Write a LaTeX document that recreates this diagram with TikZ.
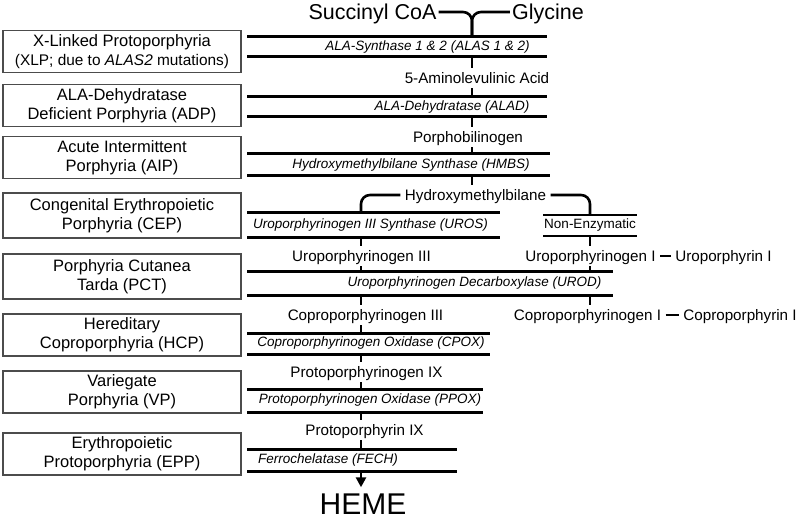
\documentclass[tikz,border=0pt]{standalone}
\usepackage{fontspec}
\setmainfont{Liberation Sans}
\usetikzlibrary{arrows.meta,calc}

\begin{document}
\begin{tikzpicture}[x=1pt,y=-1pt,
    bar/.style={line width=3pt},
    link/.style={line width=2.6pt},
    box/.style={draw=black!70,line width=1.3pt,minimum width=238pt,minimum height=42pt,
      align=center,inner sep=2pt,font=\fontsize{16.5}{19}\selectfont},
    met/.style={inner sep=4.5pt,text height=11pt,text depth=0pt,font=\fontsize{15.2}{17}\selectfont},
    enz/.style={inner sep=1pt,font=\fontsize{13.5}{15}\selectfont\itshape},
    source/.style={inner sep=2pt,text height=15.5pt,text depth=0pt,font=\fontsize{21.5}{24}\selectfont}]
    \useasboundingbox (0,0) rectangle (800,521); %固定画布大小
    %三条竖线所在的位置
    \coordinate (sU) at (472,0);
    \coordinate (sL) at (361,0);
    \coordinate (sR) at (590,0);

    %左边的疾病方框
    \node[box] (xlp) at (122,51.5) {X-Linked Protoporphyria\\{\fontsize{15.4}{19}\selectfont(XLP; due to \textit{ALAS2} mutations)}};
    \node[box] (adp) at (122,105.5) {ALA-Dehydratase\\Deficient Porphyria (ADP)};
    \node[box] (aip) at (122,157.5) {Acute Intermittent\\Porphyria (AIP)};
    \node[box,minimum height=45pt] (cep) at (122,215.5) {Congenital Erythropoietic\\Porphyria (CEP)};
    \node[box,minimum height=45pt] (pct) at (122,276.5) {Porphyria Cutanea\\Tarda (PCT)};
    \node[box] (hcp) at (122,335) {Hereditary\\Coproporphyria (HCP)};
    \node[box] (vp) at (122,392) {Variegate\\Porphyria (VP)};
    \node[box] (epp) at (122,454) {Erythropoietic\\Protoporphyria (EPP)};

    %每个酶上下两条粗线
    \draw[bar] (247,37) coordinate (alas-t) -- (547,37);
    \draw[bar] (247,57) coordinate (alas-b) -- (547,57);
    \draw[bar] (247,97) coordinate (alad-t) -- (547,97);
    \draw[bar] (247,117) coordinate (alad-b) -- (547,117);
    \draw[bar] (247,154) coordinate (hmbs-t) -- (550,154);
    \draw[bar] (247,176) coordinate (hmbs-b) -- (550,176);
    \draw[bar] (247,213) coordinate (uros-t) -- (500,213);
    \draw[bar] (247,238) coordinate (uros-b) -- (500,238);
    \draw[bar,line width=2pt] (543,215) coordinate (nonenz-t) -- (637,215);
    \draw[bar,line width=2pt] (543,236) coordinate (nonenz-b) -- (637,236);
    \draw[bar] (247,272) coordinate (urod-t) -- (613,272);
    \draw[bar] (247,295) coordinate (urod-b) -- (613,295);
    \draw[bar] (247,333) coordinate (cpox-t) -- (490,333);
    \draw[bar] (247,354) coordinate (cpox-b) -- (490,354);
    \draw[bar] (247,389) coordinate (ppox-t) -- (483,389);
    \draw[bar] (247,412) coordinate (ppox-b) -- (483,412);
    \draw[bar] (247,449) coordinate (fech-t) -- (457,449);
    \draw[bar] (247,471) coordinate (fech-b) -- (457,471);

    %酶的名字(斜体)
    \node[enz] (alas) at (427.5,47) {ALA-Synthase 1 \& 2 (ALAS 1 \& 2)};
    \node[enz] (alad) at (452,107) {ALA-Dehydratase (ALAD)};
    \node[enz] (hmbs) at (411,165) {Hydroxymethylbilane Synthase (HMBS)};
    \node[enz] (uros) at (370.5,225.5) {Uroporphyrinogen III Synthase (UROS)};
    \node[enz,font=\fontsize{13.5}{15}\selectfont] (nonenz) at (590,225.5) {Non-Enzymatic};
    \node[enz] (urod) at (474.5,283.5) {Uroporphyrinogen Decarboxylase (UROD)};
    \node[enz] (cpox) at (371,343.5) {Coproporphyrinogen Oxidase (CPOX)};
    \node[enz] (ppox) at (370,400.5) {Protoporphyrinogen Oxidase (PPOX)};
    \node[enz] (fech) at (328,460) {Ferrochelatase (FECH)};

    %中间产物
    \node[source] (succ) at (372.5,12) {Succinyl CoA};
    \node[source] (gly) at (548,12) {Glycine};
    \node[met] (ala) at (477,78) {5-Aminolevulinic Acid};
    \node[met] (pbg) at (468,137) {Porphobilinogen};
    \node[met] (hmb) at (475.5,195) {Hydroxymethylbilane};
    \node[met] (uro3) at (361.5,256) {Uroporphyrinogen III};
    \node[met] (uro1) at (590.5,256) {Uroporphyrinogen I};
    \node[met] (urop1) at (723.5,256) {Uroporphyrin I};
    \node[met] (copro3) at (365.5,315) {Coproporphyrinogen III};
    \node[met] (copro1) at (587.5,315) {Coproporphyrinogen I};
    \node[met] (coprop1) at (740,315) {Coproporphyrin I};
    \node[met] (protogen) at (366.5,372) {Protoporphyrinogen IX};
    \node[met] (proto) at (364.5,430) {Protoporphyrin IX};
    \node[inner sep=2pt,text height=22pt,text depth=0pt,font=\fontsize{30}{34}\selectfont] (heme) at (363,503.5) {HEME};

    %上半部分的竖线
    \draw[link,rounded corners=9pt] (succ.east) -| (sU |- alas-t);
    \draw[link,rounded corners=9pt] (gly.west) -| (sU |- alas-t);
    \draw[link] (sU |- alas-b) -- (sU |- ala.north);
    \draw[link] (sU |- ala.south) -- (sU |- alad-t);
    \draw[link] (sU |- alad-b) -- (sU |- pbg.north);
    \draw[link] (sU |- pbg.south) -- (sU |- hmbs-t);
    \draw[link] (sU |- hmbs-b) -- (sU |- hmb.north);
    %分成两支
    \draw[link,rounded corners=9pt] (hmb.west) -| (sL |- uros-t);
    \draw[link,rounded corners=9pt] (hmb.east) -| (sR |- nonenz-t);
    %左边一支
    \draw[link] (sL |- uros-b) -- (sL |- uro3.north);
    \draw[link] (sL |- uro3.south) -- (sL |- urod-t);
    \draw[link] (sL |- urod-b) -- (sL |- copro3.north);
    \draw[link] (sL |- copro3.south) -- (sL |- cpox-t);
    \draw[link] (sL |- cpox-b) -- (sL |- protogen.north);
    \draw[link] (sL |- protogen.south) -- (sL |- ppox-t);
    \draw[link] (sL |- ppox-b) -- (sL |- proto.north);
    \draw[link] (sL |- proto.south) -- (sL |- fech-t);
    \draw[link,-{Triangle[length=10pt,width=10pt]},shorten >=3pt] (sL |- fech-b) -- (sL |- heme.north);
    %右边一支
    \draw[link] (sR |- nonenz-b) -- (sR |- uro1.north);
    \draw[link] (sR |- uro1.south) -- (sR |- urod-t);
    \draw[link] (sR |- urod-b) -- (sR |- copro1.north);
    \draw[link] (uro1.east) -- (urop1.west);
    \draw[link] (copro1.east) -- (coprop1.west);
\end{tikzpicture}
\end{document}
